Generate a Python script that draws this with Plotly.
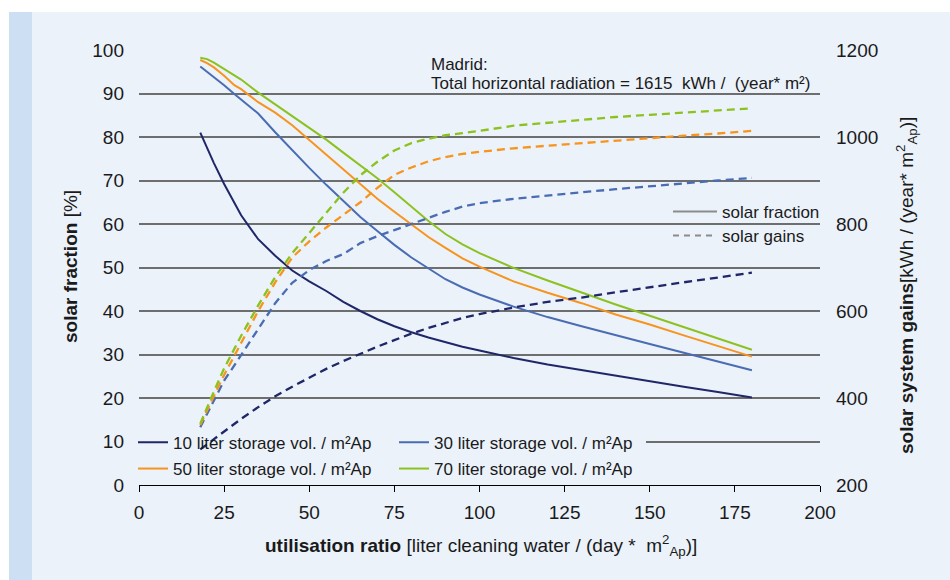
import plotly.graph_objects as go

# ---------------- data ----------------
x_ratio = [18, 20, 22, 25, 28, 30, 35, 40, 45, 50, 55, 60, 65, 70, 75, 80, 85,
           90, 95, 100, 110, 120, 130, 140, 150, 160, 170, 180]

# solar fraction [%]
frac_10 = [81, 77.5, 74, 69.2, 65, 62, 56.5, 52.7, 49.3, 46.8, 44.6, 42.1, 40, 38.1,
           36.5, 35.1, 33.9, 32.8, 31.8, 30.9, 29.2, 27.7, 26.4, 25.1, 23.8, 22.6, 21.4, 20.1]
frac_30 = [96.2, 95, 93.7, 91.9, 89.9, 88.6, 85.4, 81.1, 76.9, 72.9, 69, 65.2, 61.6, 58.4,
           55.2, 52.3, 49.7, 47.3, 45.4, 43.8, 41, 38.6, 36.5, 34.4, 32.4, 30.4, 28.4, 26.4]
frac_50 = [97.7, 97, 96, 94.1, 91.9, 91, 88, 85.6, 82.7, 79.3, 76, 72.5, 69, 65.8,
           62.8, 59.9, 57, 54.5, 52.1, 50.2, 46.8, 44.2, 41.8, 39.2, 36.9, 34.4, 31.9, 29.5]
frac_70 = [98.2, 97.9, 97.1, 95.6, 94.3, 93.2, 90.2, 87.5, 84.6, 82, 79.4, 76.4, 73.5, 70.5,
           67.3, 64, 60.7, 57.7, 55.3, 53.3, 49.9, 47, 44.2, 41.5, 38.9, 36.3, 33.7, 31.1]

# solar system gains [kWh / (year * m2Ap)]
gain_10 = [282, 294, 306, 323, 341, 352, 379, 404, 426, 447, 467, 485, 502, 518,
           533, 548, 561, 573, 584, 593, 608, 621, 631, 643, 655, 666, 677, 688]
gain_30 = [333, 363, 396, 440, 475, 499, 560, 618, 665, 694, 715, 731, 756, 772,
           786, 800, 814, 828, 840, 848, 858, 866, 873, 880, 887, 894, 900, 906]
gain_50 = [338, 373, 405, 453, 498, 527, 600, 666, 723, 760, 792, 821, 850, 883,
           913, 930, 944, 954, 961, 966, 974, 980, 986, 991, 997, 1003, 1008, 1014]
gain_70 = [341, 380, 415, 468, 515, 543, 613, 678, 733, 780, 827, 872, 912, 943,
           969, 986, 996, 1004, 1009, 1014, 1026, 1033, 1040, 1046, 1051, 1056, 1061, 1066]

series_names = ["10 liter storage vol. / m²Ap", "30 liter storage vol. / m²Ap",
                "50 liter storage vol. / m²Ap", "70 liter storage vol. / m²Ap"]
x_ticks = [0, 25, 50, 75, 100, 125, 150, 175, 200]
y_ticks = [0, 10, 20, 30, 40, 50, 60, 70, 80, 90, 100]
y2_ticks = [200, 400, 600, 800, 1000, 1200]

# ---------------- style ----------------
FONT = "Liberation Sans, Arial, Helvetica, sans-serif"
TXT = "#1a1a1a"
PANEL = "#ebf2fa"
STRIPE = "#cde0f3"
colors = ["#1f2768", "#4a6cb3", "#f7941d", "#8cc21f"]
legend_ids = ["legend", "legend3", "legend5", "legend6"]
legend_pos = [(133, 442.7), (394, 442.7), (133, 469), (394, 469)]

W, H = 950, 580
ML, MR, MT, MB = 139, 130, 50, 95
PW, PH = W - ML - MR, H - MT - MB
X_RANGE = [0, 200]
Y_RANGE = [0, 100]


def px(x):
    return (x - ML) / PW


def py(y):
    return (H - MB - y) / PH


def dx(x):  # pixel -> x data
    return X_RANGE[0] + (x - ML) / PW * (X_RANGE[1] - X_RANGE[0])


def dy(y):  # pixel -> left y data
    return Y_RANGE[0] + (H - MB - y) / PH * (Y_RANGE[1] - Y_RANGE[0])


fig = go.Figure()

fracs = [frac_10, frac_30, frac_50, frac_70]
gains = [gain_10, gain_30, gain_50, gain_70]

for i in range(4):
    fig.add_trace(go.Scatter(
        x=x_ratio, y=gains[i], mode="lines", yaxis="y2",
        line=dict(color=colors[i], width=2.3, dash="8px,5px"),
        showlegend=False, hoverinfo="skip"))

for i in range(4):
    fig.add_trace(go.Scatter(
        x=x_ratio, y=fracs[i], mode="lines", name=series_names[i],
        line=dict(color=colors[i], width=2), legend=legend_ids[i]))

fig.add_trace(go.Scatter(x=[None], y=[None], mode="lines", name="solar fraction",
                         line=dict(color="#8c8c8c", width=2), legend="legend2"))
fig.add_trace(go.Scatter(x=[None], y=[None], mode="lines", name="solar gains",
                         line=dict(color="#8c8c8c", width=2, dash="6px,5px"),
                         legend="legend4"))

legends = {}
for lid, (lx, ly) in zip(legend_ids, legend_pos):
    legends[lid] = dict(x=px(lx), y=py(ly), xanchor="left", yanchor="middle",
                        bgcolor="rgba(0,0,0,0)", borderwidth=0,
                        font=dict(family=FONT, size=17, color=TXT))
legends["legend2"] = dict(x=px(668), y=py(212), xanchor="left", yanchor="middle",
                          bgcolor="rgba(0,0,0,0)",
                          font=dict(family=FONT, size=17, color=TXT), itemwidth=44)
legends["legend4"] = dict(x=px(668), y=py(236), xanchor="left", yanchor="middle",
                          bgcolor="rgba(0,0,0,0)",
                          font=dict(family=FONT, size=17, color=TXT), itemwidth=44)

fig.update_layout(
    width=W, height=H,
    margin=dict(l=ML, r=MR, t=MT, b=MB, pad=0),
    paper_bgcolor="white", plot_bgcolor="rgba(0,0,0,0)",
    font=dict(family=FONT, size=17, color=TXT),
    xaxis=dict(range=X_RANGE, tickvals=x_ticks, showgrid=False, zeroline=False,
               showline=True, linecolor="black", linewidth=1,
               ticks="outside", ticklen=6, tickcolor="black", tickwidth=1,
               tickfont=dict(size=19, color=TXT), ticklabelstandoff=4),
    yaxis=dict(range=Y_RANGE, tickvals=y_ticks, showgrid=True, gridcolor="#6e6e6e",
               gridwidth=1.5, zeroline=False, showline=False, ticks="",
               tickfont=dict(size=19, color=TXT), ticklabelstandoff=14),
    yaxis2=dict(range=[200, 1200], tickvals=y2_ticks, overlaying="y", side="right",
                showgrid=False, zeroline=False, showline=False, ticks="",
                tickfont=dict(size=19, color=TXT), ticklabelstandoff=15),
    showlegend=True,
    hovermode=False,
    **legends,
)

# background panel and stripe
fig.add_shape(type="rect", xref="paper", yref="paper", layer="below",
              x0=px(9), x1=px(W + 5), y0=py(H + 5), y1=py(12),
              fillcolor=PANEL, line=dict(width=0))
fig.add_shape(type="rect", xref="paper", yref="paper", layer="below",
              x0=px(9), x1=px(32), y0=py(H + 5), y1=py(12),
              fillcolor=STRIPE, line=dict(width=0))
# legend backdrop hiding the 10 % gridline behind the legend (between grid and traces)
fig.add_shape(type="rect", xref="x", yref="y", layer="between",
              x0=dx(136), x1=dx(646), y0=dy(448), y1=dy(437),
              fillcolor=PANEL, line=dict(width=0))

# axis titles
fig.add_annotation(xref="paper", yref="paper", x=px(481), y=py(545),
                   xanchor="center", yanchor="middle", showarrow=False,
                   text="<b>utilisation ratio</b> [liter cleaning water / (day *  m<sup>2</sup><sub>Ap</sub>)]",
                   font=dict(size=19, color=TXT))
fig.add_annotation(xref="paper", yref="paper", x=px(70), y=py(267),
                   xanchor="center", yanchor="middle", showarrow=False, textangle=-90,
                   text="<b>solar fraction</b> [%]", font=dict(size=19, color=TXT))
fig.add_annotation(xref="paper", yref="paper", x=px(906), y=py(286),
                   xanchor="center", yanchor="middle", showarrow=False, textangle=-90,
                   text="<b>solar system gains</b>[kWh / (year* m<sup>2</sup><sub>Ap</sub>)]",
                   font=dict(size=19, color=TXT))

# location note
fig.add_annotation(xref="paper", yref="paper", x=px(429), y=py(64.5),
                   xanchor="left", yanchor="middle", showarrow=False,
                   text="Madrid:", font=dict(size=17, color=TXT))
fig.add_annotation(xref="paper", yref="paper", x=px(429), y=py(84),
                   xanchor="left", yanchor="middle", showarrow=False,
                   text="Total horizontal radiation = 1615  kWh /  (year* m²)",
                   font=dict(size=17, color=TXT))

fig.write_html("out.html")
